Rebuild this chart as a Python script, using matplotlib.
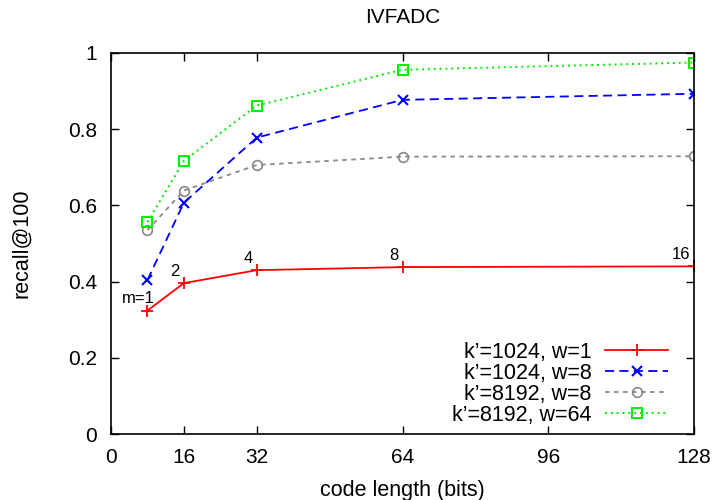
import matplotlib.pyplot as plt

plt.rcParams['font.family'] = ['Liberation Sans', 'DejaVu Sans']

bits = [8, 16, 32, 64, 128]
m_labels = ["m=1", "2", "4", "8", "16"]

recall_k1024_w1 = [0.324, 0.396, 0.430, 0.438, 0.440]
recall_k1024_w8 = [0.404, 0.607, 0.778, 0.877, 0.893]
recall_k8192_w8 = [0.535, 0.639, 0.706, 0.728, 0.729]
recall_k8192_w64 = [0.556, 0.717, 0.862, 0.956, 0.975]

fig = plt.figure(figsize=(7.18, 5.0), dpi=100)
ax = fig.add_axes([0.1546, 0.132, 0.812, 0.762])

ax.plot(bits, recall_k1024_w1, color='#ff0000', ls='-', lw=1.3, marker='+', ms=8, mew=1.3,
        label="k\u2019=1024, w=1")
ax.plot(bits, recall_k1024_w8, color='#0000ff', ls=(0, (5, 3)), lw=1.3, marker='x', ms=7.5, mew=1.5,
        label="k\u2019=1024, w=8")
ax.plot(bits, recall_k8192_w8, color='#888888', ls=(0, (2.5, 2.5)), lw=1.3, marker='o', ms=7, mew=1.2,
        mfc='none', label="k\u2019=8192, w=8")
ax.plot(bits, recall_k8192_w64, color='#00ee00', ls=(0, (1, 2)), lw=1.4, marker='s', ms=7.5, mew=1.4,
        mfc='none', label="k\u2019=8192, w=64")

for i, (x, y) in enumerate(zip(bits, recall_k1024_w1)):
    dx = 5 if i == 0 else -3
    ax.annotate(m_labels[i], (x, y), xytext=(dx, 3), textcoords='offset points',
                ha='right', va='bottom', fontsize=12)

ax.set_xlim(0, 128)
ax.set_ylim(0, 1)
ax.set_xticks([0, 16, 32, 64, 96, 128])
ax.set_yticks([0, 0.2, 0.4, 0.6, 0.8, 1])
ax.set_yticklabels(["0", "0.2", "0.4", "0.6", "0.8", "1"])
ax.tick_params(direction='in', length=5.5, width=1, top=True, right=True, labelsize=15)
ax.tick_params(axis='x', pad=10)
ax.tick_params(axis='y', pad=10)
for s in ax.spines.values():
    s.set_linewidth(1.2)

ax.set_title("IVFADC", fontsize=15, y=1.092, va='center', pad=0)
ax.set_xlabel("code length (bits)", fontsize=15.5, va='center')
ax.set_ylabel("recall@100", fontsize=15.5, va='center')
ax.xaxis.set_label_coords(0.5, -0.147)
ax.yaxis.set_label_coords(-0.154, 0.5)

ax.legend(loc='lower right', bbox_to_anchor=(0.955, 0.022), frameon=False, markerfirst=False,
          fontsize=15.5, handlelength=2.9, labelspacing=0.0, handletextpad=0.65,
          borderaxespad=0, borderpad=0)

fig.savefig("out.png", dpi=100)
